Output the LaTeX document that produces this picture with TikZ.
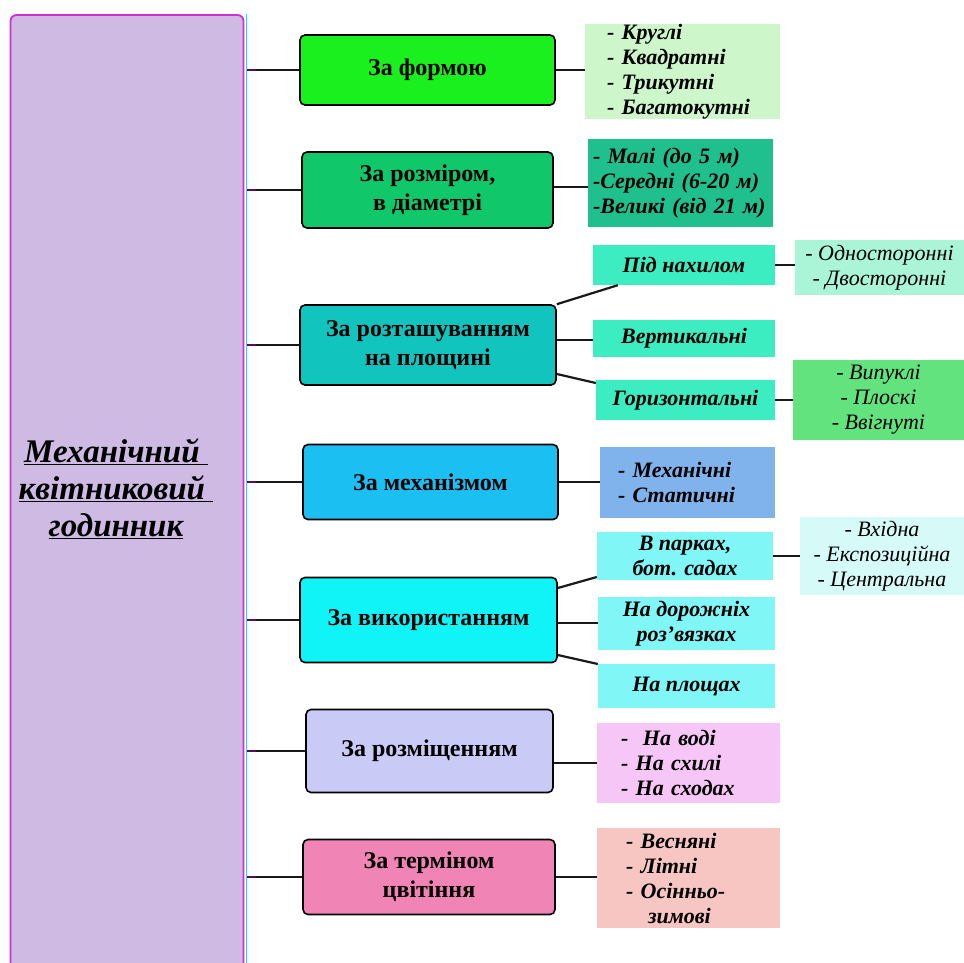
\documentclass[tikz,border=0pt]{standalone}
\usepackage{fontspec}
\setmainfont{Liberation Serif}
\usepackage{tikz}
\usetikzlibrary{positioning,calc}

\definecolor{mainfill}{HTML}{CEBAE2}
\definecolor{mainedge}{HTML}{D22ED6}
\definecolor{cyanedge}{HTML}{00E8F0}
\definecolor{stubpurple}{HTML}{5A0A5A}
\definecolor{cforma}{HTML}{19F01E}
\definecolor{crozmir}{HTML}{10C86A}
\definecolor{croztash}{HTML}{12C4BE}
\definecolor{cmekh}{HTML}{1CBFF2}
\definecolor{cvykor}{HTML}{10F4F8}
\definecolor{crozmishch}{HTML}{CACAF6}
\definecolor{ctermin}{HTML}{F084B4}
\definecolor{lforma}{HTML}{CDF6CB}
\definecolor{lrozmir}{HTML}{1FC08E}
\definecolor{lroztash}{HTML}{3DEDC2}
\definecolor{lnakhyl}{HTML}{AAF5D8}
\definecolor{lhoriz}{HTML}{62E37E}
\definecolor{lmekh}{HTML}{80B2EC}
\definecolor{lvykor}{HTML}{80F6F6}
\definecolor{lparky}{HTML}{D6FAF8}
\definecolor{lrozm}{HTML}{F6C6F6}
\definecolor{ltermin}{HTML}{F8C6C2}

\begin{document}
\begin{tikzpicture}[
    x=1pt, y=-1pt,
    mainbox/.style={draw=mainedge, line width=1.8pt, fill=mainfill, rounded corners=6pt,
                    minimum width=233pt, minimum height=960pt},
    title/.style={align=center, font=\fontsize{33}{37}\selectfont\bfseries\itshape},
    cat/.style={draw, line width=1.6pt, rounded corners=5pt, minimum width=255pt,
                minimum height=75pt, align=center, font=\fontsize{24}{29}\selectfont\bfseries},
    sub/.style={minimum width=180pt, minimum height=40pt, inner sep=0pt, align=center,
                font=\fontsize{22}{25}\selectfont\bfseries\itshape},
    list/.style={inner ysep=0pt, align=left, font=\fontsize{22}{25}\selectfont\bfseries\itshape},
    plain/.style={inner sep=0pt, align=center, font=\fontsize{22}{25}\selectfont\itshape},
    line/.style={line width=2.2pt, black!90}
]
\useasboundingbox (0,0) rectangle (964,962);

% left column
\node[mainbox] (main) at (127,495) {};
\node[title] (name) at (116,489)
  {\underline{Механічний\ }\\\underline{квітниковий\ }\\\underline{годинник}};
\draw[cyanedge, line width=1.5pt] ([xshift=2pt]main.north east) -- ([xshift=2pt]main.south east);

% categories
\node[cat, fill=cforma, minimum width=255pt, minimum height=70pt] (forma) at (427.5,70) {За формою};
\node[cat, fill=crozmir, minimum width=251pt, minimum height=76pt] (rozmir) at (427.5,190) {За розміром,\\в діаметрі};
\node[cat, fill=croztash, minimum width=256pt, minimum height=80pt] (roztash) at (428,345) {За розташуванням\\на площині};
\node[cat, fill=cmekh, minimum width=255pt, minimum height=75pt] (mekh) at (430.5,482) {За механізмом};
\node[cat, fill=cvykor, minimum width=257pt, minimum height=85pt] (vykor) at (428.5,620) {За використанням};
\node[cat, fill=crozmishch, minimum width=247pt, minimum height=83pt] (rozmishch) at (429.5,751) {За розміщенням};
\node[cat, fill=ctermin, minimum width=252pt, minimum height=75pt] (termin) at (429,877) {За терміном\\цвітіння};

% second level
\node[list, fill=lforma, inner xsep=22pt, text width=151pt, minimum height=93pt] (formaL) at (682.5,71.5)
  {- Круглі\\- Квадратні\\- Трикутні\\- Багатокутні};
\node[list, fill=lrozmir, inner xsep=5pt, text width=175pt, minimum height=88pt] (rozmirL) at (680.5,183)
  {- Малі (до 5 м)\\-Середні (6-20 м)\\-Великі (від 21 м)};
\node[sub, fill=lroztash, minimum width=182pt] (nakhyl) at (684,265) {Під нахилом};
\node[sub, fill=lroztash, minimum width=182pt, minimum height=37pt] (vert) at (684,338.5) {Вертикальні};
\node[sub, fill=lroztash, minimum width=179pt] (horiz) at (685.5,400) {Горизонтальні};
\node[list, fill=lmekh, inner xsep=18pt, text width=139pt, minimum height=71pt] (mekhL) at (687.5,482.5)
  {- Механічні\\- Статичні};
\node[sub, fill=lvykor, minimum width=176pt, minimum height=48pt] (parky) at (685,556) {В парках,\\бот. садах};
\node[sub, fill=lvykor, minimum width=177pt, minimum height=53pt] (dorog) at (686.5,623.5) {На дорожніх\\роз'вязках};
\node[sub, fill=lvykor, minimum width=177pt, minimum height=44pt] (ploshch) at (686.5,686) {На площах};
\node[list, fill=lrozm, inner xsep=24pt, text width=135pt, minimum height=80pt] (rozmL) at (688.5,763)
  {-\ \ На воді\\- На схилі\\- На сходах};
\node[list, fill=ltermin, inner xsep=29pt, text width=125pt, minimum height=100pt] (terminL) at (688.5,878)
  {- Весняні\\- Літні\\- Осінньо-\\\ \ \ зимові};

% third level
\node[plain, fill=lnakhyl, minimum width=169pt, minimum height=55pt] (nakhylL) at (879.5,267.5)
  {- Односторонні\\- Двосторонні};
\node[plain, fill=lhoriz, minimum width=171pt, minimum height=80pt] (horizL) at (878.5,400)
  {- Випуклі\\- Плоскі\\- Ввігнуті};
\node[plain, fill=lparky, minimum width=164pt, minimum height=78pt] (parkyL) at (882,556)
  {- Вхідна\\- Експозиційна\\- Центральна};

% connectors
\foreach \c in {forma,rozmir,roztash,mekh,vykor,rozmishch,termin}{
  \draw[line] ([xshift=3pt]main.east |- \c.west) -- (\c.west);
  \draw[line, stubpurple] ([xshift=3pt]main.east |- \c.west) -- ([xshift=12pt]main.east |- \c.west);
}
\draw[line] (forma.east) -- (forma.east -| formaL.west);
\draw[line] ($(rozmir.east)+(0,-3)$) -- ($(rozmir.east -| rozmirL.west)+(0,-3)$);
\draw[line] (roztash.north east) -- ($(nakhyl.south west)+(25,0)$);
\draw[line] ($(roztash.east)+(0,-5)$) -- ($(roztash.east -| vert.west)+(0,-5)$);
\draw[line] ($(roztash.east)+(0,29)$) -- ($(horiz.west)+(0,-17)$);
\draw[line] (nakhyl.east) -- (nakhyl.east -| nakhylL.west);
\draw[line] (horiz.east) -- (horizL.west);
\draw[line] (mekh.east) -- (mekh.east -| mekhL.west);
\draw[line] ($(vykor.east)+(0,-32)$) -- ($(parky.west)+(0,21)$);
\draw[line] ($(vykor.east)+(0,3)$) -- ($(vykor.east -| dorog.west)+(0,3)$);
\draw[line] ($(vykor.east)+(0,35)$) -- ($(ploshch.west)+(0,-22)$);
\draw[line] (parky.east) -- (parkyL.west);
\draw[line] (rozmL.west -| rozmishch.east) -- (rozmL.west);
\draw[line] (termin.east) -- (termin.east -| terminL.west);
\end{tikzpicture}
\end{document}
